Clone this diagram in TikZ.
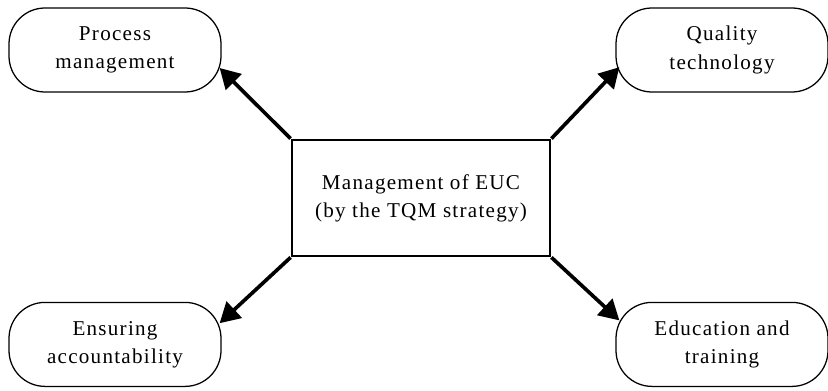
\documentclass[tikz,border=0pt]{standalone}
\usepackage{fontspec}
\setmainfont[LetterSpace=6]{Liberation Serif}
\usetikzlibrary{arrows.meta}

\begin{document}
\begin{tikzpicture}[
  every node/.style={font=\fontsize{15}{20}\selectfont, align=center},
  topic/.style={draw, line width=0.9pt, rounded corners=0.9cm, minimum width=5.3cm, minimum height=2.1cm},
  core/.style={draw, line width=2pt, minimum width=6.45cm, minimum height=2.9cm},
  link/.style={-{Triangle[length=0.5cm,width=0.55cm]}, line width=2.6pt}
]
\useasboundingbox (0,0) rectangle (20.7,9.75);
\node[core] (main) at (10.525,4.8) {Management of EUC\\(by the TQM strategy)};
\node[topic] (proc) at (2.875,8.5) {Process\\management};
\node[topic] (qual) at (18.05,8.5) {Quality\\technology};
\node[topic] (ensure) at (2.875,1.14) {Ensuring\\accountability};
\node[topic] (edu) at (18.05,1.14) {Education and\\training};
\draw[link] (main.north west) -- ([xshift=-0.05cm,yshift=-0.45cm]proc.east);
\draw[link] (main.north east) -- ([xshift=0.1cm,yshift=-0.43cm]qual.west);
\draw[link] (main.south west) -- ([xshift=-0.05cm,yshift=0.53cm]ensure.east);
\draw[link] (main.south east) -- ([xshift=0.1cm,yshift=0.6cm]edu.west);
\end{tikzpicture}
\end{document}
